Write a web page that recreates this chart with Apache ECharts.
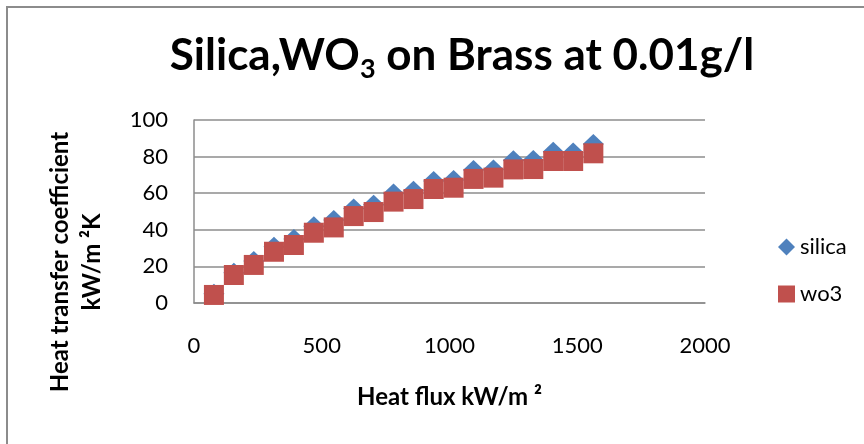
<!DOCTYPE html>
<html>
<head>
<meta charset="utf-8">
<title>Silica, WO3 on Brass</title>
<script src="https://cdn.jsdelivr.net/npm/echarts@6/dist/echarts.min.js"></script>
<style>
  html, body { margin: 0; padding: 0; background: #fff; }
  #chart { width: 864px; height: 444px; }
</style>
</head>
<body>
<div id="chart"></div>
<script>
// heat flux (kW/m2)
var heatFlux = [78, 156, 234, 313, 391, 469, 547, 625, 703, 781, 859, 938, 1016, 1094, 1172, 1250, 1328, 1406, 1484, 1563];
// heat transfer coefficient (kW/m2K)
var silica = [5, 16.5, 23, 30.8, 35, 42, 45.4, 51.7, 53.7, 59.9, 61.4, 66.7, 67.2, 72.7, 73, 78, 78.1, 82.7, 82.3, 86.9];
var wo3 = [4.4, 15.3, 20.8, 28, 31.7, 38.4, 41.3, 47.5, 49.7, 55.4, 56.8, 62.3, 63, 67.8, 68.5, 73, 73.2, 77.6, 77.6, 81.8];
var xTicks = [0, 500, 1000, 1500, 2000];
var yTicks = [0, 20, 40, 60, 80, 100];

var FONT = 'Lato';

function pairs(xs, ys) {
  return xs.map(function (x, i) { return [x, ys[i]]; });
}

var myChart = echarts.init(document.getElementById('chart'));

myChart.setOption({
  animation: false,
  title: {
    text: '{a|Silica,WO}{s|3}{a| on Brass at 0.01g/l}',
    left: 457,
    top: 24,
    textAlign: 'center',
    textStyle: {
      rich: {
        a: { fontFamily: FONT, fontWeight: 'bold', fontSize: 44, color: '#000', lineHeight: 54 },
        s: { fontFamily: FONT, fontWeight: 'bold', fontSize: 27, color: '#000', verticalAlign: 'bottom', lineHeight: 26 }
      }
    }
  },
  graphic: [
    {
      type: 'rect',
      shape: { x: 7, y: 7, width: 1000, height: 1000 },
      style: { fill: 'none', stroke: '#8c8c8c', lineWidth: 2 },
      silent: true
    },
    {
      // y axis title sits lower than the plot centre in the original
      type: 'text',
      x: 76,
      y: 262,
      rotation: Math.PI / 2,
      style: {
        text: 'Heat transfer coefficient\nkW/m ²K',
        font: 'bold 24px Lato',
        fill: '#000',
        align: 'center',
        verticalAlign: 'middle',
        lineHeight: 32
      }
    }
  ],
  legend: {
    orient: 'vertical',
    left: 773,
    top: 231,
    itemWidth: 17,
    itemHeight: 17,
    itemGap: 25,
    textStyle: { fontFamily: FONT, fontSize: 22, color: '#000' },
    data: [
      { name: 'silica', icon: 'diamond' },
      { name: 'wo3', icon: 'rect' }
    ]
  },
  grid: { left: 194, right: 159, top: 120, bottom: 141 },
  xAxis: {
    type: 'value',
    min: xTicks[0],
    max: xTicks[xTicks.length - 1],
    interval: 500,
    name: 'Heat flux kW/m ²',
    nameLocation: 'middle',
    nameGap: 82,
    nameTextStyle: { fontFamily: FONT, fontWeight: 'bold', fontSize: 24, color: '#000' },
    axisLine: { show: true, lineStyle: { color: '#8c8c8c', width: 1.5 } },
    axisTick: { show: false },
    splitLine: { show: false },
    axisLabel: {
      margin: 32,
      fontFamily: FONT,
      fontSize: 22,
      color: '#000',
      formatter: function (v) { return String(v); }
    }
  },
  yAxis: {
    type: 'value',
    min: yTicks[0],
    max: yTicks[yTicks.length - 1],
    interval: 20,
    axisLine: { show: true, lineStyle: { color: '#8c8c8c', width: 1.5 } },
    axisTick: { show: false },
    splitLine: { show: true, lineStyle: { color: '#8c8c8c', width: 1.5 } },
    axisLabel: { margin: 26, fontFamily: FONT, fontSize: 22, color: '#000' }
  },
  series: [
    {
      name: 'silica',
      type: 'scatter',
      symbol: 'diamond',
      symbolSize: [21, 20],
      itemStyle: { color: '#4f81bd', opacity: 1 },
      data: pairs(heatFlux, silica)
    },
    {
      name: 'wo3',
      type: 'scatter',
      symbol: 'rect',
      symbolSize: 20,
      itemStyle: { color: '#c0504d', opacity: 1 },
      data: pairs(heatFlux, wo3)
    }
  ]
});
</script>
</body>
</html>
